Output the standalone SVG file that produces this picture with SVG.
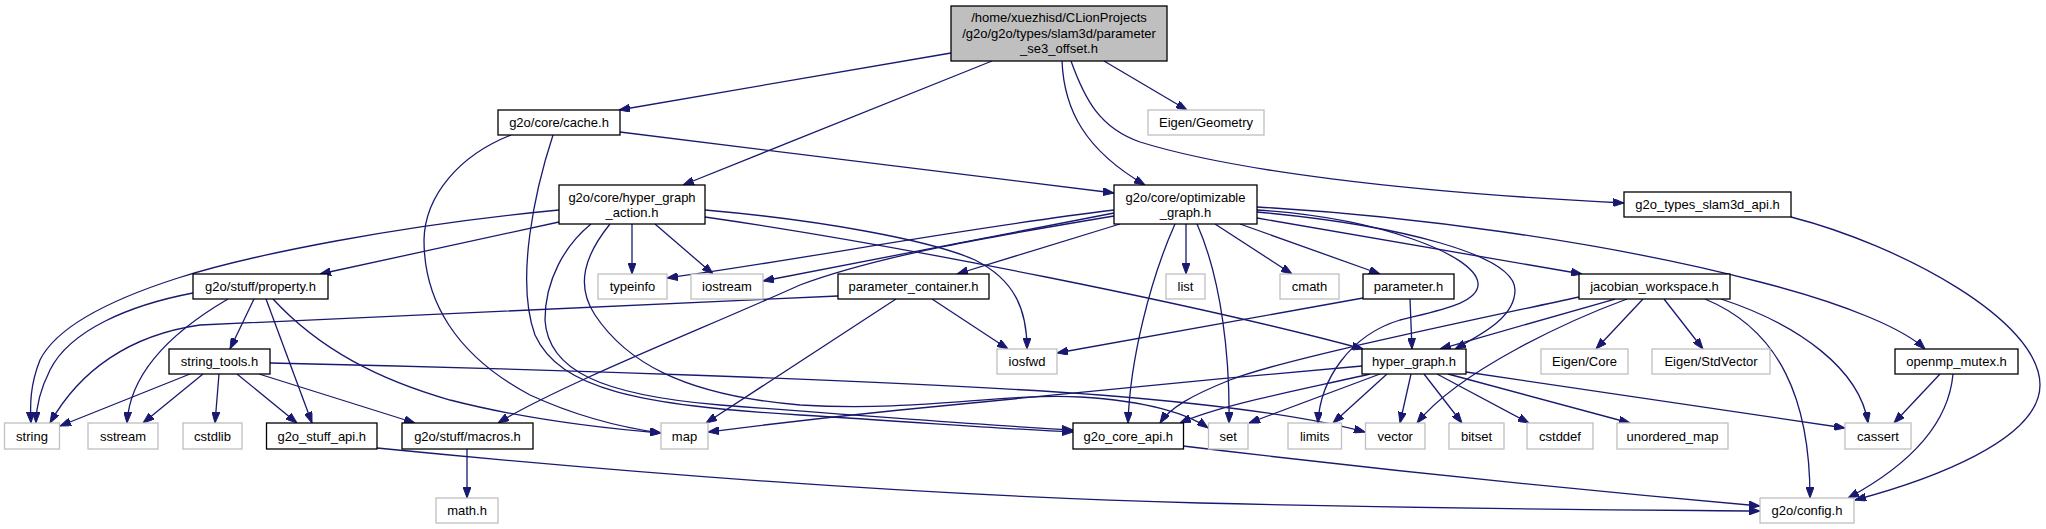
<svg xmlns="http://www.w3.org/2000/svg" width="2046" height="529" viewBox="0 0 2046 529">
<style>
.n rect{fill:#fff;stroke:#000;stroke-width:1.3}
.g rect{fill:#fff;stroke:#bfbfbf;stroke-width:1.3}
.m rect{fill:#bfbfbf;stroke:#000;stroke-width:1.3}
text{font-family:"Liberation Sans",Arial,sans-serif;font-size:13px;fill:#000;text-anchor:middle}
#edges path{fill:none;stroke:#191970;stroke-width:1.3;marker-end:url(#ah)}
</style>
<defs>
<marker id="ah" markerUnits="userSpaceOnUse" markerWidth="11" markerHeight="8" refX="11" refY="4" orient="auto"><path d="M0,0 L11,4 L0,8 z" fill="#191970" stroke="#191970" stroke-width="1"/></marker>
</defs>
<rect width="2046" height="529" fill="#fff"/>
<g id="edges">
<path d="M951,53 L619,110"/>
<path d="M992,61 L683,185"/>
<path d="M1062,61 C1064,110 1085,150 1145,185"/>
<path d="M1104,61 L1187,110"/>
<path d="M1071,61 C1085,100 1100,128 1140,142 C1230,170 1400,192 1624,203"/>
<path d="M620,132 L1114,193"/>
<path d="M511,135 C460,155 425,195 424,240 C424,300 455,355 530,395 C580,418 625,428 661,433"/>
<path d="M553,135 C535,190 515,280 535,335 C560,390 640,405 800,415 C930,423 1020,430 1073,432"/>
<path d="M559,210 C400,225 250,255 178,278 C100,303 55,330 40,360 C30,385 30,405 31,423"/>
<path d="M559,222 L320,274"/>
<path d="M632,224 L632,274"/>
<path d="M655,224 L713,274"/>
<path d="M591,224 C565,245 545,280 545,320 C548,370 600,395 720,405 C850,415 980,425 1073,430"/>
<path d="M610,224 C585,255 575,285 595,315 C625,360 680,395 800,405 C920,412 1000,393 1080,397 C1150,401 1190,415 1208,428"/>
<path d="M705,210 C820,220 930,240 975,260 C1015,280 1027,310 1027,349"/>
<path d="M705,217 C900,245 1200,305 1363,349"/>
<path d="M1197,224 C1222,280 1230,360 1229,423"/>
<path d="M1114,213 L763,281"/>
<path d="M1114,210 C950,230 800,260 667,278"/>
<path d="M1186,224 L1186,274"/>
<path d="M1215,224 L1292,274"/>
<path d="M1240,224 L1380,274"/>
<path d="M1257,218 L1582,274"/>
<path d="M1257,207 C1400,215 1600,240 1760,282 C1850,305 1905,330 1925,349"/>
<path d="M1257,212 C1400,225 1515,255 1515,290 C1515,318 1480,335 1455,349"/>
<path d="M1257,210 C1380,218 1475,255 1478,283 C1480,303 1440,310 1400,320 C1350,335 1320,380 1318,423"/>
<path d="M1175,224 C1150,280 1130,360 1128,423"/>
<path d="M1120,224 L957,274"/>
<path d="M1114,216 C1000,235 880,255 800,285 C700,330 560,385 498,423"/>
<path d="M193,293 C130,305 70,330 50,370 C40,390 36,410 36,423"/>
<path d="M228,299 C175,330 130,370 127,423"/>
<path d="M254,299 L230,349"/>
<path d="M266,299 L312,423"/>
<path d="M273,299 C320,350 380,380 450,400 C520,418 600,428 661,433"/>
<path d="M190,374 L60,426"/>
<path d="M203,374 L143,423"/>
<path d="M219,374 L215,423"/>
<path d="M237,374 L297,423"/>
<path d="M259,374 L415,423"/>
<path d="M270,363 C500,368 900,380 1100,395 C1250,407 1320,420 1365,432"/>
<path d="M467,449 L467,498"/>
<path d="M377,448 C600,470 900,495 1200,503 C1500,510 1650,510 1760,511"/>
<path d="M1183,446 C1400,472 1600,492 1760,506"/>
<path d="M838,296 C600,305 400,315 200,325 C130,335 80,370 50,423"/>
<path d="M932,299 L1008,349"/>
<path d="M896,299 L706,423"/>
<path d="M1363,298 L1057,353"/>
<path d="M1410,299 L1412,349"/>
<path d="M1579,297 C1450,325 1280,360 1230,380 C1190,396 1170,408 1160,423"/>
<path d="M1615,299 L1440,349"/>
<path d="M1627,299 C1570,320 1460,370 1417,423"/>
<path d="M1643,299 L1596,349"/>
<path d="M1664,299 L1703,349"/>
<path d="M1705,299 C1780,330 1810,400 1810,498"/>
<path d="M1721,299 C1800,325 1860,370 1868,423"/>
<path d="M1940,374 L1894,423"/>
<path d="M1953,374 C1948,430 1900,470 1848,498"/>
<path d="M1791,217 C1900,245 2040,320 2040,385 C2040,440 1930,480 1855,500"/>
<path d="M1362,366 C1200,380 1000,400 900,410 C800,420 740,428 708,432"/>
<path d="M1370,374 C1300,390 1220,405 1180,423"/>
<path d="M1380,374 L1249,423"/>
<path d="M1387,374 L1333,423"/>
<path d="M1411,374 L1400,423"/>
<path d="M1424,374 L1462,423"/>
<path d="M1437,374 L1529,423"/>
<path d="M1448,374 L1630,423"/>
<path d="M1466,372 L1845,428"/>
</g>
<g id="main" class="m"><rect x="951" y="6" width="216" height="55"/><text x="1059" y="22">/home/xuezhisd/CLionProjects</text><text x="1059" y="37.5">/g2o/g2o/types/slam3d/parameter</text><text x="1059" y="52.5">_se3_offset.h</text></g>
<g id="cache" class="n"><rect x="498" y="110" width="122" height="25"/><text x="559" y="127">g2o/core/cache.h</text></g>
<g id="eigen_geometry" class="g"><rect x="1148" y="110" width="116" height="25"/><text x="1206" y="127">Eigen/Geometry</text></g>
<g id="hyper_graph_action" class="n"><rect x="559" y="185" width="146" height="39"/><text x="632" y="201.5">g2o/core/hyper_graph</text><text x="632" y="216.5">_action.h</text></g>
<g id="optimizable_graph" class="n"><rect x="1114" y="185" width="143" height="39"/><text x="1185.5" y="201.5">g2o/core/optimizable</text><text x="1185.5" y="216.5">_graph.h</text></g>
<g id="types_slam3d_api" class="n"><rect x="1624" y="192" width="167" height="25"/><text x="1707.5" y="209">g2o_types_slam3d_api.h</text></g>
<g id="property" class="n"><rect x="193" y="274" width="135" height="25"/><text x="260.5" y="291">g2o/stuff/property.h</text></g>
<g id="typeinfo" class="g"><rect x="598" y="274" width="69" height="25"/><text x="632.5" y="291">typeinfo</text></g>
<g id="iostream" class="g"><rect x="691" y="274" width="72" height="25"/><text x="727" y="291">iostream</text></g>
<g id="parameter_container" class="n"><rect x="838" y="274" width="151" height="25"/><text x="913.5" y="291">parameter_container.h</text></g>
<g id="list" class="g"><rect x="1166" y="274" width="39" height="25"/><text x="1185.5" y="291">list</text></g>
<g id="cmath" class="g"><rect x="1280" y="274" width="59" height="25"/><text x="1309.5" y="291">cmath</text></g>
<g id="parameter" class="n"><rect x="1363" y="274" width="91" height="25"/><text x="1408.5" y="291">parameter.h</text></g>
<g id="jacobian_workspace" class="n"><rect x="1579" y="274" width="151" height="25"/><text x="1654.5" y="291">jacobian_workspace.h</text></g>
<g id="string_tools" class="n"><rect x="169" y="349" width="101" height="25"/><text x="219.5" y="366">string_tools.h</text></g>
<g id="iosfwd" class="g"><rect x="997" y="349" width="60" height="25"/><text x="1027" y="366">iosfwd</text></g>
<g id="hyper_graph" class="n"><rect x="1362" y="349" width="104" height="25"/><text x="1414" y="366">hyper_graph.h</text></g>
<g id="eigen_core" class="g"><rect x="1541" y="349" width="87" height="25"/><text x="1584.5" y="366">Eigen/Core</text></g>
<g id="eigen_stdvector" class="g"><rect x="1652" y="349" width="118" height="25"/><text x="1711" y="366">Eigen/StdVector</text></g>
<g id="openmp_mutex" class="n"><rect x="1895" y="349" width="123" height="25"/><text x="1956.5" y="366">openmp_mutex.h</text></g>
<g id="string" class="g"><rect x="4.5" y="423" width="55" height="26"/><text x="32" y="440.5">string</text></g>
<g id="sstream" class="g"><rect x="88" y="423" width="70" height="26"/><text x="123" y="440.5">sstream</text></g>
<g id="cstdlib" class="g"><rect x="183" y="423" width="59" height="26"/><text x="212.5" y="440.5">cstdlib</text></g>
<g id="stuff_api" class="n"><rect x="266.5" y="423" width="110.5" height="26"/><text x="321.75" y="440.5">g2o_stuff_api.h</text></g>
<g id="macros" class="n"><rect x="402" y="423" width="131" height="26"/><text x="467.5" y="440.5">g2o/stuff/macros.h</text></g>
<g id="map" class="g"><rect x="661" y="423" width="47" height="26"/><text x="684.5" y="440.5">map</text></g>
<g id="core_api" class="n"><rect x="1073" y="423" width="110.5" height="26"/><text x="1128.25" y="440.5">g2o_core_api.h</text></g>
<g id="set" class="g"><rect x="1208.5" y="423" width="39.5" height="26"/><text x="1228.25" y="440.5">set</text></g>
<g id="limits" class="g"><rect x="1288" y="423" width="53.5" height="26"/><text x="1314.75" y="440.5">limits</text></g>
<g id="vector" class="g"><rect x="1365.5" y="423" width="59.5" height="26"/><text x="1395.25" y="440.5">vector</text></g>
<g id="bitset" class="g"><rect x="1449" y="423" width="55" height="26"/><text x="1476.5" y="440.5">bitset</text></g>
<g id="cstddef" class="g"><rect x="1527" y="423" width="66" height="26"/><text x="1560" y="440.5">cstddef</text></g>
<g id="unordered_map" class="g"><rect x="1617" y="423" width="111" height="26"/><text x="1672.5" y="440.5">unordered_map</text></g>
<g id="cassert" class="g"><rect x="1845" y="423" width="66" height="26"/><text x="1878" y="440.5">cassert</text></g>
<g id="math" class="g"><rect x="436" y="498" width="62" height="25"/><text x="467" y="515">math.h</text></g>
<g id="config" class="g"><rect x="1760" y="498" width="94" height="25"/><text x="1807" y="515">g2o/config.h</text></g>
</svg>
